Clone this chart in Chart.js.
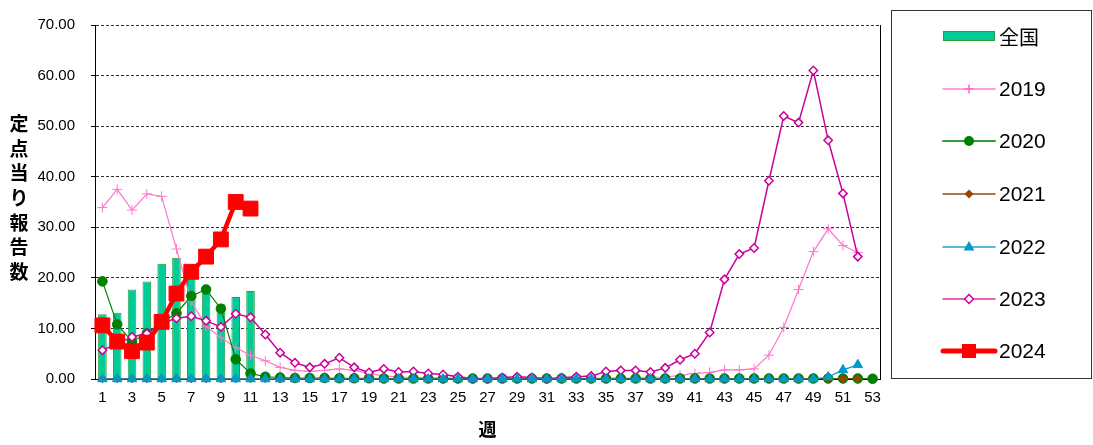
<!DOCTYPE html>
<html><head><meta charset="utf-8">
<script src="https://cdn.jsdelivr.net/npm/chart.js@4/dist/chart.umd.min.js"></script>
<style>html,body{margin:0;padding:0;background:#fff;}#wrap{width:1093px;height:445px;position:relative;}</style>
</head><body><div id="wrap"><canvas id="c" width="1093" height="445"></canvas></div>
<script>
const weeks = [1,2,3,4,5,6,7,8,9,10,11,12,13,14,15,16,17,18,19,20,21,22,23,24,25,26,27,28,29,30,31,32,33,34,35,36,37,38,39,40,41,42,43,44,45,46,47,48,49,50,51,52,53];
const national = [12.8,13.1,17.7,19.3,22.8,24.0,20.8,17.6,14.8,16.2,17.4];
const y2019 = [33.9,37.5,33.4,36.6,36.1,25.7,15.3,10.4,8.2,6.2,4.7,3.6,2.3,1.7,1.5,1.7,2.0,1.7,1.1,0.6,0.4,0.3,0.3,0.2,0.2,0.1,0.1,0.1,0.1,0.1,0.1,0.1,0.1,0.1,0.2,0.2,0.2,0.3,0.4,0.7,1.1,1.3,1.8,1.8,2.0,4.7,10.2,17.7,25.2,29.7,26.4,25.0];
const y2020 = [19.3,10.8,7.4,9.0,11.2,13.0,16.4,17.7,13.9,3.9,1.1,0.45,0.3,0.2,0.2,0.2,0.15,0.15,0.15,0.1,0.1,0.1,0.1,0.1,0.1,0.1,0.1,0.1,0.1,0.1,0.1,0.1,0.1,0.1,0.1,0.1,0.1,0.1,0.1,0.1,0.1,0.1,0.1,0.1,0.1,0.1,0.1,0.1,0.1,0.1,0.1,0.1,0.05];
const y2021 = [0.05,0.05,0.05,0.05,0.05,0.05,0.05,0.05,0.05,0.05,0.05,0.05,0.05,0.05,0.05,0.05,0.05,0.05,0.05,0.05,0.05,0.05,0.05,0.05,0.05,0.05,0.05,0.05,0.05,0.05,0.05,0.05,0.05,0.05,0.05,0.05,0.05,0.05,0.05,0.05,0.05,0.05,0.05,0.05,0.05,0.05,0.05,0.05,0.05,0.05,0.05,0.05];
const y2022 = [0,0,0,0,0,0,0,0,0,0,0,0,0,0,0,0,0,0,0,0,0,0,0,0,0,0,0,0,0,0,0,0,0,0,0,0,0,0,0,0,0,0,0,0,0,0,0,0,0,0.4,1.8,2.8];
const y2023 = [5.7,7.0,8.3,9.0,11.0,12.0,12.4,11.5,10.3,12.9,12.2,8.8,5.2,3.2,2.3,3.0,4.2,2.3,1.3,2.0,1.4,1.5,1.1,0.9,0.45,0.1,0.1,0.3,0.45,0.3,0.1,0.25,0.45,0.57,1.5,1.7,1.7,1.4,2.2,3.8,5.0,9.2,19.7,24.7,25.9,39.2,52.0,50.7,61.0,47.2,36.7,24.2];
const y2024 = [10.6,7.4,5.5,7.2,11.3,16.9,21.2,24.2,27.6,35.0,33.7];
const yTicks = [0,10,20,30,40,50,60,70];
const seriesLabels = ['全国','2019','2020','2021','2022','2023','2024'];
const yTitle = '定点当り報告数';
const xTitle = '週';

const LAT = '"Liberation Sans", Arial, sans-serif';
const JP = '"Noto Sans CJK JP", sans-serif';

function lineDs(label, data, color, style, radius, opts) {
  return Object.assign({
    type: 'line', label, data,
    borderColor: color, backgroundColor: color,
    pointBackgroundColor: color, pointBorderColor: color,
    borderWidth: 1.2, pointStyle: style, pointRadius: radius, pointHoverRadius: radius,
    pointBorderWidth: 1, tension: 0, clip: false, spanGaps: false
  }, opts || {});
}

const legendStyles = [
  {kind:'bar', fill:'#00CC99', stroke:'#2E9A3A'},
  {kind:'line', line:'#FF80D0', color:'#FF66CC', marker:'cross', r:4, lw:1.5},
  {kind:'line', line:'#3A9A3A', color:'#008000', marker:'circle', r:5, lw:2},
  {kind:'line', line:'#9A4A10', color:'#994400', marker:'diamond', r:4.5, lw:1.5},
  {kind:'line', line:'#2AA0D0', color:'#0099CC', marker:'triangle', r:6, lw:1.5},
  {kind:'line', line:'#DD33AA', color:'#CC0099', marker:'odiamond', r:4.5, lw:1.5},
  {kind:'line', line:'#FF0000', color:'#FF0000', marker:'square', r:7, lw:5}
];

function marker(ctx, type, x, y, r, color) {
  ctx.save();
  ctx.fillStyle = color; ctx.strokeStyle = color; ctx.lineWidth = 1.5;
  ctx.beginPath();
  if (type === 'cross') {
    ctx.moveTo(x - r, y); ctx.lineTo(x + r, y); ctx.moveTo(x, y - r); ctx.lineTo(x, y + r); ctx.stroke();
  } else if (type === 'circle') {
    ctx.arc(x, y, r, 0, Math.PI * 2); ctx.fill();
  } else if (type === 'diamond') {
    ctx.moveTo(x, y - r); ctx.lineTo(x + r, y); ctx.lineTo(x, y + r); ctx.lineTo(x - r, y); ctx.closePath(); ctx.fill();
  } else if (type === 'odiamond') {
    ctx.moveTo(x, y - r); ctx.lineTo(x + r, y); ctx.lineTo(x, y + r); ctx.lineTo(x - r, y); ctx.closePath();
    ctx.fillStyle = '#fff'; ctx.fill(); ctx.stroke();
  } else if (type === 'triangle') {
    ctx.moveTo(x, y - r); ctx.lineTo(x + r * 0.9, y + r * 0.6); ctx.lineTo(x - r * 0.9, y + r * 0.6); ctx.closePath(); ctx.fill();
  } else if (type === 'square') {
    ctx.rect(x - r, y - r, 2 * r, 2 * r); ctx.fill();
  }
  ctx.restore();
}

const decor = {
  id: 'decor',
  afterDraw(chart) {
    const ctx = chart.ctx;
    const a = chart.chartArea;
    ctx.save();
    ctx.strokeStyle = '#000'; ctx.lineWidth = 1;
    ctx.beginPath(); ctx.moveTo(Math.round(a.right) + 0.5, a.top); ctx.lineTo(Math.round(a.right) + 0.5, a.bottom); ctx.stroke();
    ctx.fillStyle = '#000';
    ctx.font = 'bold 19px ' + JP;
    ctx.textAlign = 'center'; ctx.textBaseline = 'middle';
    const chars = Array.from(yTitle);
    chars.forEach((ch, i) => ctx.fillText(ch, 19, 124 + i * 24.6));
    ctx.strokeStyle = '#333'; ctx.lineWidth = 1;
    ctx.strokeRect(891.5, 10.5, 200, 368);
    const ys = [36, 89, 141, 194, 247, 299, 351];
    seriesLabels.forEach((lab, i) => {
      const st = legendStyles[i];
      const y = ys[i];
      if (st.kind === 'bar') {
        ctx.fillStyle = st.fill; ctx.fillRect(943, y - 5, 52, 10);
        ctx.strokeStyle = st.stroke; ctx.lineWidth = 1; ctx.strokeRect(943.5, y - 4.5, 51, 9);
      } else {
        ctx.strokeStyle = st.line; ctx.lineWidth = st.lw; ctx.lineCap = 'round';
        ctx.beginPath(); ctx.moveTo(943, y); ctx.lineTo(995, y); ctx.stroke();
        marker(ctx, st.marker, 969, y, st.r, st.color);
      }
      ctx.fillStyle = '#000';
      ctx.font = (i === 0 ? '20px ' + JP : '21px ' + LAT);
      ctx.textAlign = 'left'; ctx.textBaseline = 'middle';
      ctx.fillText(lab, 999, y + 1);
    });
    ctx.restore();
  }
};

new Chart(document.getElementById('c'), {
  data: {
    labels: weeks,
    datasets: [
      {type:'bar', label: seriesLabels[0], data: national, backgroundColor:'#00CC99', borderColor:'#2E9A3A', borderWidth:1,
       barPercentage:0.58, categoryPercentage:1.0, order: 10},
      lineDs(seriesLabels[1], y2019, '#FF77CC', 'cross', 5, {order: 7, borderWidth: 1.2}),
      lineDs(seriesLabels[2], y2020, '#008000', 'circle', 4.8, {order: 6, borderWidth: 1.2}),
      lineDs(seriesLabels[3], y2021, '#994400', 'rectRot', 4, {order: 5, borderWidth: 1.2}),
      lineDs(seriesLabels[5], y2023, '#CC0099', 'rectRot', 4.2, {order: 4, borderWidth: 1.5, pointBackgroundColor:'#fff', pointBorderWidth:1.5}),
      lineDs(seriesLabels[4], y2022, '#0099CC', 'triangle', 5.5, {order: 3, borderWidth: 1.2}),
      lineDs(seriesLabels[6], y2024, '#FF0000', 'rect', 10.5, {order: 1, borderWidth: 4.5})
    ]
  },
  options: {
    responsive: false, animation: false, devicePixelRatio: 1,
    layout: {padding: {top: 11, right: 213, bottom: 0, left: 0}},
    plugins: {legend: {display: false}, tooltip: {enabled: false}},
    scales: {
      x: {
        type: 'category', offset: true,
        grid: {display: false, drawTicks: false},
        border: {display: true, color: '#000', width: 1},
        ticks: {autoSkip: false, maxRotation: 0, padding: 10, color: '#000', font: {family: LAT, size: 15},
          callback: function(v, i) { const w = weeks[i]; return (w % 2 === 1) ? String(w) : ''; }},
        title: {display: true, text: xTitle, color: '#000', font: {family: JP, size: 18, weight: 'bold'}, padding: {top: 0, bottom: 5}},
        afterFit: s => { s.height = 66; }
      },
      y: {
        min: 0, max: 70,
        afterBuildTicks: s => { s.ticks = yTicks.map(v => ({value: v})); },
        grid: {color: '#333', lineWidth: 1, tickLength: 4, tickColor: '#000', tickBorderDash: []},
        border: {display: true, color: '#000', width: 1, dash: [3, 2]},
        ticks: {padding: 16, color: '#000', font: {family: LAT, size: 15}, callback: v => Number(v).toFixed(2)},
        afterFit: s => { s.width = 95; }
      }
    }
  },
  plugins: [decor]
});
</script></body></html>
